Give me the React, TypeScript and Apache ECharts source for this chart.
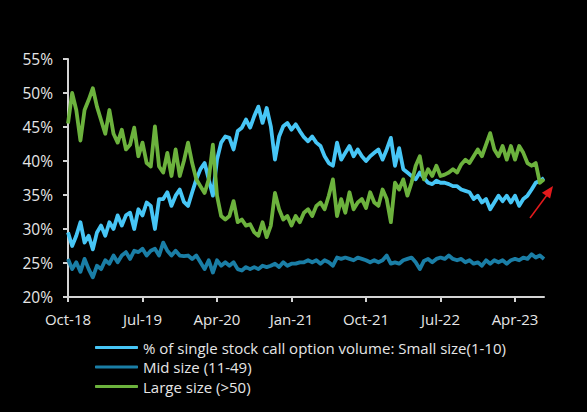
import React, { useEffect, useRef } from "react";
import * as echarts from "echarts";

// Half-monthly observations from Oct-2018 to mid Jul-2023
const startYear = 2018;
const startMonth = 9; // October (0-based)
const pointCount = 116;
const monthNames = ["Jan", "Feb", "Mar", "Apr", "May", "Jun", "Jul", "Aug", "Sep", "Oct", "Nov", "Dec"];
const categories: string[] = [];
for (let i = 0; i < pointCount; i++) {
  const m = startMonth + Math.floor(i / 2);
  const y = startYear + Math.floor(m / 12);
  const mm = m % 12;
  categories.push(`${monthNames[mm]}-${String(y).slice(2)}${i % 2 === 1 ? " (mid)" : ""}`);
}

const tickLabels = ["Oct-18", "Jul-19", "Apr-20", "Jan-21", "Oct-21", "Jul-22", "Apr-23"];
const tickStep = 18;

const smallSize = [
  29.5, 27.5, 29, 31, 28, 29, 27, 29.5, 30.5, 29, 31, 30, 32, 30.5, 32, 32.4, 30, 32.9, 32, 33.9, 33.4, 30, 34.4, 34.4, 35.4, 33.4, 34.9, 35.8, 34,
  33.4, 35.4, 37.3, 38.8, 39.7, 37.3, 34.9, 40.2, 42.7, 43.6, 43.4, 41.7, 44.4, 44.9, 46.1, 44.9, 46.6, 48, 45.6, 47.8, 45.1, 40.2, 43.6, 45.1, 45.6, 44.6, 45.4, 44.4, 43.5,
  42.9, 43.6, 42.7, 42.2, 40.7, 39.7, 39.3, 42.7, 40.2, 41.2, 42.2, 40.7, 41.7, 40.7, 40, 40.7, 41.2, 41.7, 40.2, 41.7, 43.4, 39.3, 41.9, 38.8, 38.3, 37.8, 37.3, 38.3, 37.5,
  36.8, 36.6, 37.1, 36.8, 36.8, 36.6, 36.3, 36.3, 35.8, 35.6, 35.4, 34.4, 34.9, 33.9, 34.4, 32.9, 33.9, 34.9, 34.1, 34.9, 33.9, 34.9, 33.4, 34.4, 34.9, 35.8, 36.8, 37.1, 37.5,
];

const midSize = [
  25.6, 24.1, 25.1, 23.7, 25.6, 24.1, 22.9, 24.6, 24.1, 25.4, 24.9, 26.1, 25.1, 26.1, 26.6, 25.6, 26.8, 26.6, 27.1, 26.1, 26.8, 27.1, 26.1, 28, 26.8, 26.1, 26.8, 26.1, 26,
  26.1, 25.6, 26.1, 25.1, 24.1, 25.4, 23.6, 25.4, 24.6, 25.1, 24.6, 25.1, 24.1, 23.9, 24.4, 24.1, 24.4, 24.1, 24.6, 24.4, 24.6, 24.9, 24.4, 25.1, 24.6, 24.9, 24.9, 25.1, 25.1,
  25.4, 25.1, 25.4, 24.9, 25.4, 25.1, 24.6, 25.8, 25.6, 25.8, 25.6, 25.4, 25.8, 25.6, 25.4, 25.1, 25.4, 25.1, 25.4, 26.1, 24.9, 25.1, 24.9, 25.4, 25.6, 25.8, 25.1, 24.1, 25.3,
  25.6, 25.1, 25.6, 25.8, 25.6, 26.1, 25.6, 25.4, 25.6, 25.1, 25.4, 24.9, 25.1, 24.6, 25.4, 24.9, 25.4, 25.1, 25.4, 24.9, 25.4, 25.6, 25.4, 25.8, 25.6, 26.3, 25.8, 26.1, 25.6,
];

const largeSize = [
  45.5, 50, 47.5, 43, 47.5, 49, 50.7, 48, 46, 44, 47.5, 44, 42.7, 44.6, 41.7, 42.4, 44.9, 40.7, 42.7, 39.7, 39.2, 45.1, 39.2, 38.3, 41.2, 37.8, 41.7, 37.8, 40,
  42.7, 39.7, 37.3, 36.3, 35.3, 37.3, 42.4, 34.9, 31.9, 31.4, 31.9, 34.1, 31, 31.4, 30.5, 30.7, 29.5, 29, 31, 28.8, 30.5, 35.3, 32.9, 31.4, 31.9, 30.5, 31.9, 31, 32.4,
  32.9, 31.9, 33.4, 33.9, 32.9, 34.9, 37.3, 31.9, 34.4, 32.4, 35.4, 32.9, 33.9, 34.4, 33.1, 35.4, 33.9, 33.4, 35.8, 34.4, 31, 36.8, 35.8, 37.3, 34.9, 36.8, 39.3, 40.7, 37.3,
  38.8, 37.8, 39.3, 37.8, 38, 38.3, 38.8, 38.3, 39.5, 40.2, 39.7, 40.7, 41.7, 40.7, 42.4, 44.1, 41.7, 40.7, 42.2, 40.2, 42.2, 40.2, 42.2, 41.2, 39.7, 39.3, 39.7, 36.8, 37.3,
];

const seriesNames = [
  "% of single stock call option volume: Small size(1-10)",
  "Mid size (11-49)",
  "Large size (>50)",
];
const seriesColors = ["#47c6f6", "#1a7ea6", "#6cb23d"];

const FONT = "Open Sans";
const TEXT_COLOR = "#e6e6e6";
const AXIS_COLOR = "#d4d4d4";

export default function App() {
  const ref = useRef<HTMLDivElement>(null);

  useEffect(() => {
    document.body.style.margin = "0";
    document.body.style.background = "#000";
    if (!ref.current) return;
    const chart = echarts.init(ref.current, undefined, { renderer: "svg" });

    const showTick = (idx: number) => idx % tickStep === 0;

    chart.setOption({
      animation: false,
      backgroundColor: "#000",
      grid: { left: 68, right: 43, top: 59, bottom: 115, containLabel: false },
      legend: {
        orient: "vertical",
        left: 90,
        top: 334,
        itemWidth: 43,
        itemHeight: 3,
        itemGap: 2.5,
        icon: "roundRect",
        textStyle: { color: TEXT_COLOR, fontFamily: FONT, fontSize: 15, lineHeight: 17 },
        data: seriesNames,
      },
      xAxis: {
        type: "category",
        data: categories,
        boundaryGap: false,
        axisLine: { show: true, lineStyle: { color: AXIS_COLOR, width: 2 } },
        axisTick: { show: true, interval: (idx: number) => showTick(idx), length: 5, lineStyle: { color: AXIS_COLOR, width: 2 } },
        axisLabel: {
          interval: (idx: number) => showTick(idx),
          formatter: (_v: string, idx: number) => tickLabels[idx / tickStep] ?? "",
          color: TEXT_COLOR,
          fontFamily: FONT,
          fontSize: 15,
          margin: 14,
        },
        splitLine: { show: false },
      },
      yAxis: {
        type: "value",
        min: 20,
        max: 55,
        interval: 5,
        axisLine: { show: true, lineStyle: { color: AXIS_COLOR, width: 2 } },
        axisTick: { show: true, length: 5, lineStyle: { color: AXIS_COLOR, width: 2 } },
        axisLabel: { formatter: "{value}%", color: TEXT_COLOR, fontFamily: FONT, fontSize: 15.5, margin: 15 },
        splitLine: { show: false },
      },
      series: [smallSize, midSize, largeSize].map((d, i) => ({
        name: seriesNames[i],
        type: "line",
        data: d,
        showSymbol: false,
        symbol: "none",
        color: seriesColors[i],
        lineStyle: { width: 3.8, color: seriesColors[i], join: "round" },
        z: 2 + i,
      })),
      graphic: [
        {
          type: "line",
          shape: { x1: 530, y1: 218, x2: 547, y2: 195 },
          style: { stroke: "#e41a1c", lineWidth: 1.5 },
        },
        {
          type: "polygon",
          shape: { points: [[553, 186], [550.1, 198.6], [541.9, 192.8]] },
          style: { fill: "#e41a1c" },
        },
      ],
    });

    return () => chart.dispose();
  }, []);

  return <div ref={ref} style={{ width: 587, height: 412 }} />;
}
